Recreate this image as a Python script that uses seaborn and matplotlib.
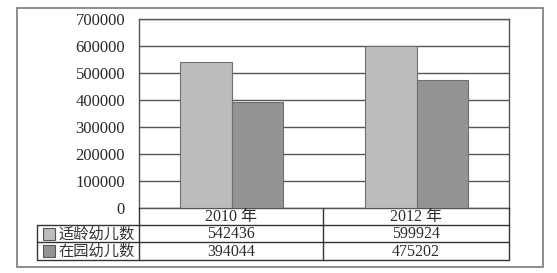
import matplotlib
matplotlib.use("Agg")
import matplotlib.pyplot as plt
import seaborn as sns
import pandas as pd
from matplotlib.patches import Rectangle

years = ["2010 年", "2012 年"]
series = ["适龄幼儿数", "在园幼儿数"]
eligible = [542436, 599924]
enrolled = [394044, 475202]
yticks = [0, 100000, 200000, 300000, 400000, 500000, 600000, 700000]

colors = ["#bcbcbc", "#939393"]
fonts = ["Liberation Serif", "Noto Sans CJK SC"]

sns.set_theme(style="white")
plt.rcParams["font.family"] = fonts

df = pd.DataFrame({
    "year": years * 2,
    "series": [series[0]] * 2 + [series[1]] * 2,
    "value": eligible + enrolled,
})

W, H = 557, 273
fig = plt.figure(figsize=(W / 100, H / 100), dpi=100)

def fx(px):
    return px / W

def fy(py):
    return (H - py) / H

# outer frame
frame = fig.add_axes([0, 0, 1, 1])
frame.set_xlim(0, W)
frame.set_ylim(H, 0)
frame.axis("off")
frame.add_patch(Rectangle((17, 8), 526, 259, fill=False, edgecolor="#7a7a7a", lw=1.2))

# main plot
L, T, R, B = 139, 19, 509, 208
ax = fig.add_axes([fx(L), fy(B), fx(R) - fx(L), fy(T) - fy(B)])
sns.barplot(data=df, x="year", y="value", hue="series", palette=colors,
            width=0.56, gap=0, edgecolor="#6f6f6f", linewidth=0.8,
            legend=False, ax=ax, zorder=3)
ax.set_ylim(0, 700000)
ax.set_yticks(yticks)
ax.set_yticklabels([str(v) for v in yticks], fontsize=12, color="#2a2a2a")
ax.tick_params(axis="y", length=0, pad=10)
ax.set_xticks([])
ax.set_xlabel("")
ax.set_ylabel("")
ax.grid(axis="y", color="#555555", lw=1.0, zorder=0)
for s in ["left", "right", "top", "bottom"]:
    ax.spines[s].set_color("#555555")
    ax.spines[s].set_linewidth(1.0)
ax.set_facecolor("white")

# data table
tab = fig.add_axes([0, 0, 1, 1], zorder=5)
tab.set_xlim(0, W)
tab.set_ylim(H, 0)
tab.axis("off")
lc = "#333333"
lw = 1.0
rows_y = [208, 225, 242, 260]
mid = 323
tab.plot([L, L], [208, 260], color=lc, lw=lw)
tab.plot([mid, mid], [208, 260], color=lc, lw=lw)
tab.plot([R, R], [208, 260], color=lc, lw=lw)
tab.plot([37, 37], [225, 260], color=lc, lw=lw)
for yy in rows_y[1:]:
    tab.plot([37, R], [yy, yy], color=lc, lw=lw)

col_centers = [(L + mid) / 2, (mid + R) / 2]
for cx, yr in zip(col_centers, years):
    tab.text(cx, (208 + 225) / 2 + 0.5, yr, ha="center", va="center", fontsize=11.5, color="#2a2a2a")
vals = [eligible, enrolled]
for i, (name, col) in enumerate(zip(series, colors)):
    y0, y1 = rows_y[i + 1], rows_y[i + 2]
    cy = (y0 + y1) / 2
    tab.add_patch(Rectangle((43, cy - 6), 12, 12, facecolor=col, edgecolor="#555555", lw=0.8))
    tab.text(58, cy + 0.5, name, ha="left", va="center", fontsize=11, color="#333333")
    for cx, v in zip(col_centers, vals[i]):
        tab.text(cx, cy + 0.5, str(v), ha="center", va="center", fontsize=11.5, color="#2a2a2a")

fig.savefig("out.png", dpi=100, facecolor="white")
